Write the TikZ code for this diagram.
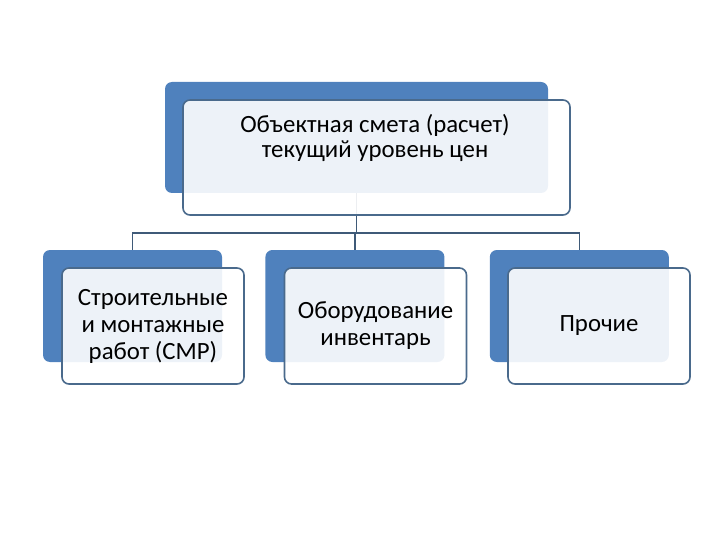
\documentclass[tikz,border=0pt]{standalone}
\usepackage{fontspec}
\setmainfont{Carlito}
\usetikzlibrary{positioning}
\definecolor{Blue}{HTML}{4F81BD}
\definecolor{Edge}{HTML}{4A6A8C}
\definecolor{Wire}{HTML}{3F5A78}
\tikzset{
  back/.style={
    rounded corners=7pt, fill=Blue, inner sep=0pt,
    minimum width=179pt, minimum height=112pt
  },
  front/.style={
    rounded corners=7pt, draw=Edge, line width=1.6pt, fill=white,
    fill opacity=0.9, text opacity=1, inner sep=0pt,
    minimum width=182pt, minimum height=116pt, align=center,
    font=\fontsize{24.8}{27}\selectfont
  },
  caption/.style={align=center, font=\fontsize{24.8}{25}\selectfont},
  link/.style={draw=Wire, line width=1.6pt}
}

\begin{document}
\begin{tikzpicture}[x=1pt,y=-1pt]
  \useasboundingbox (0,0) rectangle (720,540);
  \node[back,minimum width=383pt,minimum height=111pt] (top) at (356.5,137.5) {};
  \node[back] (cmr) at (132.5,306) {};
  \node[back,right=43pt of cmr] (equip) {};
  \node[back,right=45pt of equip] (other) {};
  \coordinate (bus) at (0,233);
  \draw[link] (top.south) -- (top.south |- bus);
  \draw[link] (cmr.north) |- (other.north |- bus) -- (other.north);
  \draw[link] (equip.north) -- (equip.north |- bus);
  \node[front,minimum width=387pt,minimum height=115pt] (topf) at (376.5,157.5) {};
  \node[caption] (toptext) at (375,138) {Объектная смета (расчет)\\текущий уровень цен};
  \node[front] (cmrf) at (153,326) {Строительные\\и монтажные\\работ (СМР)};
  \node[front] (equipf) at (375.5,326) {Оборудование\\инвентарь};
  \node[front] (otherf) at (599,326) {Прочие};
\end{tikzpicture}
\end{document}
